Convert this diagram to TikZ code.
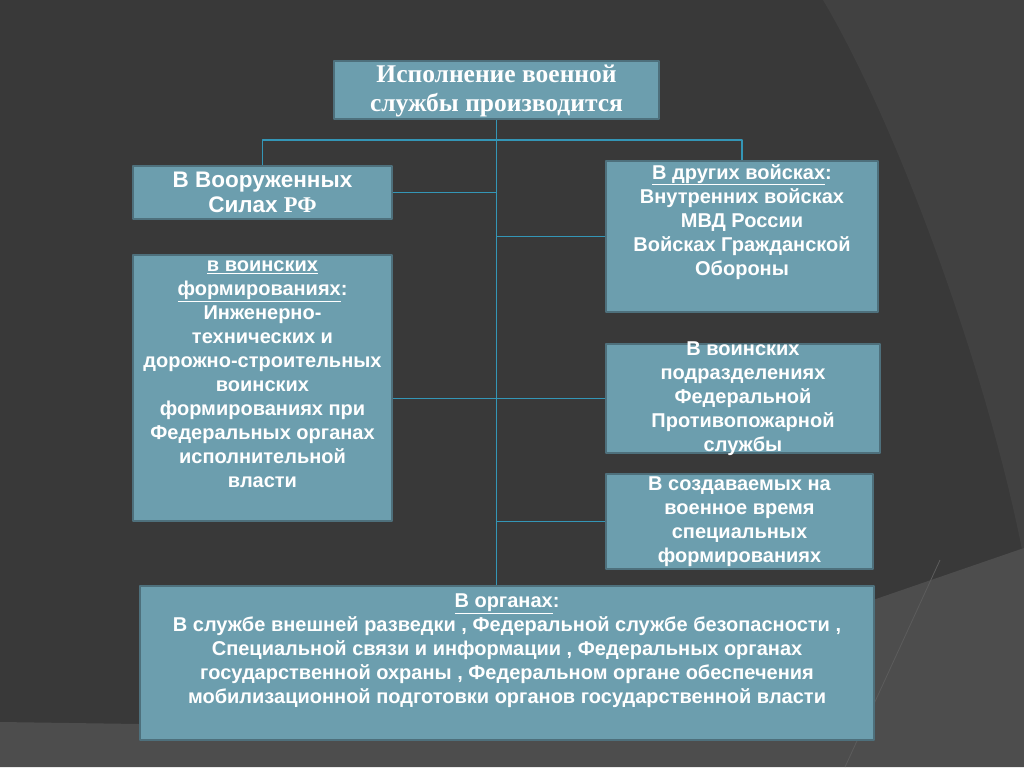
\documentclass[tikz,border=0pt]{standalone}
\usepackage{fontspec}
\setmainfont{Liberation Sans}
\newfontfamily\russerif{Liberation Serif}
\definecolor{bgdark}{RGB}{57,57,57}
\definecolor{bgmid}{RGB}{65,65,65}
\definecolor{bglight}{RGB}{77,77,77}
\definecolor{bgstreak}{RGB}{92,92,92}
\definecolor{boxfill}{RGB}{108,158,174}
\definecolor{boxline}{RGB}{78,112,124}
\definecolor{linec}{RGB}{52,150,182}
\begin{document}
\begin{tikzpicture}[x=1pt,y=-1pt, line join=round]
	\tikzset{box/.style={draw=boxline, line width=2pt, fill=boxfill, inner sep=0pt, anchor=north west},
		boxtext/.style={text=white, font=\bfseries\fontsize{20}{24}\selectfont, align=center, inner sep=2pt},
		conn/.style={draw=linec, line width=1.3pt}}
	\fill[bgdark] (0,0) rectangle (1024,767);
	\fill[bgmid] (823,0) .. controls (900,130) and (990,380) .. (1024,560) -- (1024,0) -- cycle;
	\fill[bglight] (0,722) -- (139,724) -- (873,600) -- (1024,548) -- (1024,767) -- (0,767) -- cycle;
	\draw[bgstreak, line width=0.8pt] (845,767) -- (940,560);
	\useasboundingbox (0,0) rectangle (1024,767);
	% boxes
	\node[box, minimum width=325, minimum height=58] (head) at (333,60) {};
	\node[box, minimum width=259, minimum height=53] (armed) at (132,165) {};
	\node[box, minimum width=259, minimum height=266] (form) at (132,254) {};
	\node[box, minimum width=272, minimum height=151] (other) at (605,160) {};
	\node[box, minimum width=274, minimum height=109] (fire) at (605,343) {};
	\node[box, minimum width=267, minimum height=95] (war) at (605,473) {};
	\node[box, minimum width=734, minimum height=154] (organs) at (139,585) {};
	% texts
	\node[text=white, font=\russerif\bfseries\fontsize{25.5}{29}\selectfont, align=center] (head-t) at ([yshift=-1]head.center) {Исполнение военной\\службы производится};
	\node[boxtext, font=\bfseries\fontsize{22.5}{25}\selectfont] (armed-t) at (armed.center) {В Вооруженных\\Силах {\russerif РФ}};
	\node[boxtext, anchor=north] (form-t) at ([yshift=-5]form.north) {\underline{в воинских}\\\underline{формированиях}:\\Инженерно-\\технических и\\дорожно-строительных\\воинских\\формированиях при\\Федеральных органах\\исполнительной\\власти};
	\node[boxtext, anchor=north] (other-t) at ([yshift=-2]other.north) {\underline{В других войсках}:\\Внутренних войсках\\МВД России\\Войсках Гражданской\\Обороны};
	\node[boxtext] (fire-t) at (fire.center) {В воинских\\подразделениях\\Федеральной\\Противопожарной\\службы};
	\node[boxtext] (war-t) at (war.center) {В создаваемых на\\военное время\\специальных\\формированиях};
	\node[boxtext, anchor=north] (organs-t) at ([yshift=-7]organs.north) {\underline{В органах}:\\В службе внешней разведки , Федеральной службе безопасности ,\\Специальной связи и информации , Федеральных органах\\государственной охраны , Федеральном органе обеспечения\\мобилизационной подготовки органов государственной власти};
	% connectors
	\coordinate (bus) at (495,140);
	\draw[conn] (head.south) -- (head.south |- organs.north);
	\draw[conn] (armed.north) |- (bus) -| (other.north);
	\draw[conn] (armed.east) -- (armed.east -| head.south);
	\draw[conn] (other.west) -- (other.west -| head.south);
	\draw[conn] (form.east |- fire.west) -- (fire.west);
	\draw[conn] (war.west) -- (war.west -| head.south);
\end{tikzpicture}
\end{document}
